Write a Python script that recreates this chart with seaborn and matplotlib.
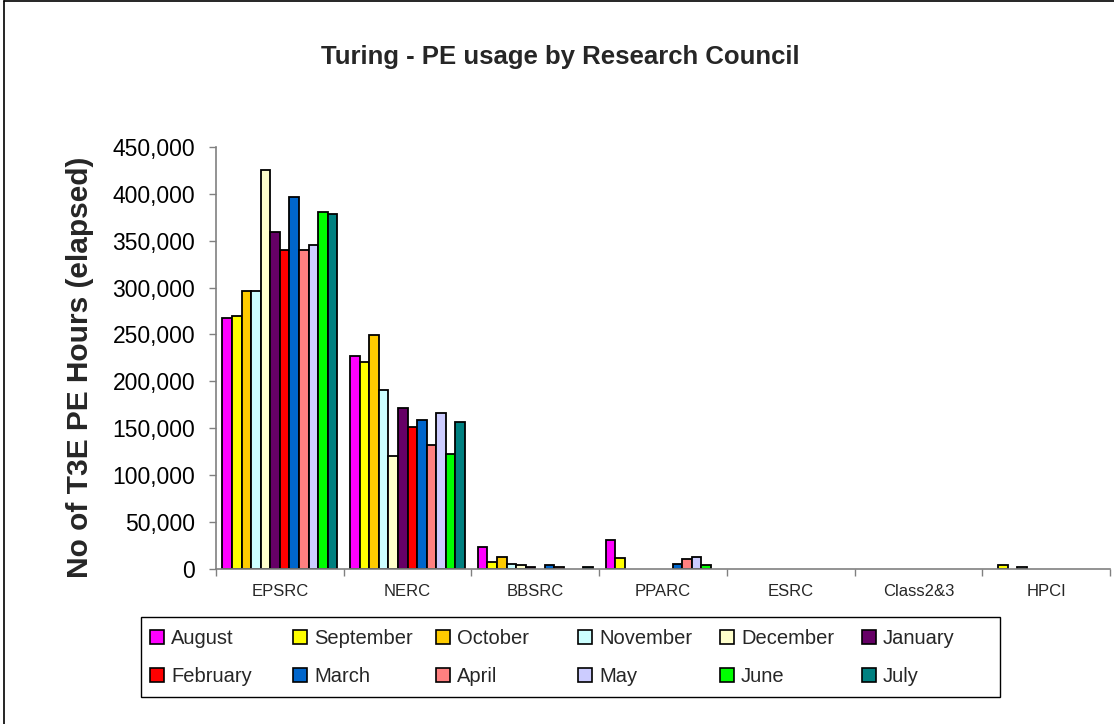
import matplotlib

matplotlib.use("Agg")

import numpy as np
import pandas as pd
import matplotlib.pyplot as plt
import matplotlib.ticker as mticker
from matplotlib.lines import Line2D
from matplotlib.patches import Patch, Rectangle
import seaborn as sns

councils = ["EPSRC", "NERC", "BBSRC", "PPARC", "ESRC", "Class2&3", "HPCI"]
months = ["August", "September", "October", "November", "December", "January",
          "February", "March", "April", "May", "June", "July"]
month_colors = ["#FF00FF", "#FFFF00", "#FFCC00", "#CCFFFF", "#FFFFCC", "#660066",
                "#FF0000", "#0066CC", "#FF8080", "#CCCCFF", "#00FF00", "#008080"]

# PE hours per council, Aug -> Jul
epsrc = [268000, 270000, 296000, 296000, 425000, 359000, 340000, 397000, 340000, 345000, 381000, 378000]
nerc = [227000, 221000, 249000, 191000, 120000, 172000, 151000, 159000, 132000, 166000, 122000, 157000]
bbsrc = [23000, 7000, 13000, 5000, 3500, 1500, 0, 3500, 1500, 0, 0, 1500]
pparc = [31000, 11000, 0, 0, 0, 0, 0, 5000, 10000, 13000, 4000, 0]
esrc = [0, 0, 0, 0, 0, 0, 0, 0, 0, 0, 0, 0]
class23 = [0, 0, 0, 0, 0, 0, 0, 0, 0, 0, 0, 0]
hpci = [0, 3500, 0, 1500, 0, 0, 0, 0, 0, 0, 0, 0]

hours_by_council = [epsrc, nerc, bbsrc, pparc, esrc, class23, hpci]

rows = []
for council, values in zip(councils, hours_by_council):
    for month, v in zip(months, values):
        rows.append({"Council": council, "Month": month, "Hours": v})
df = pd.DataFrame(rows)

sns.set_theme(style="white")
plt.rcParams["font.family"] = ["Liberation Sans", "DejaVu Sans"]

fig = plt.figure(figsize=(11.14, 7.24), dpi=100)
ax = fig.add_axes([0.1939, 0.2145, 0.8025, 0.5825])

sns.barplot(
    data=df,
    x="Council",
    y="Hours",
    hue="Month",
    order=councils,
    hue_order=months,
    palette=dict(zip(months, month_colors)),
    saturation=1,
    width=0.9,
    edgecolor="black",
    linewidth=1.3,
    errorbar=None,
    legend=False,
    ax=ax,
)

# excel draws nothing for empty months
for cont in ax.containers:
    for bar in cont:
        if bar.get_height() == 0:
            bar.set_visible(False)

ax.set_xlim(-0.5, len(councils) - 0.5)
ax.set_ylim(0, 450000)
ax.yaxis.set_major_locator(mticker.MultipleLocator(50000))
ax.yaxis.set_major_formatter(mticker.FuncFormatter(lambda v, p: f"{v:,.0f}"))
ax.tick_params(axis="y", left=True, length=5, width=1, color="#808080",
               labelsize=16.5, pad=10, labelcolor="black")

ax.set_xticks(range(len(councils)))
ax.set_xticklabels(councils)
ax.set_xticks(np.arange(-0.5, len(councils), 1), minor=True)
ax.tick_params(axis="x", which="major", length=0, labelsize=12, pad=11)
ax.tick_params(axis="x", which="minor", bottom=True, length=5, width=1, color="#808080")

ax.set_xlabel("")
ax.set_ylabel("")
for side in ["top", "right"]:
    ax.spines[side].set_visible(False)
for side in ["left", "bottom"]:
    ax.spines[side].set_color("#808080")
    ax.spines[side].set_linewidth(1.2)

fig.text(0.503, 0.921, "Turing - PE usage by Research Council",
         ha="center", va="center", fontsize=18.5, fontweight="bold")
fig.text(0.0718, 0.492, "No of T3E PE Hours (elapsed)", rotation=90,
         ha="center", va="center", fontsize=21.5, fontweight="bold")

# legend: excel uses equal-width columns, so one small legend per column
handles = [Patch(facecolor=c, edgecolor="black", linewidth=1.2) for c in month_colors]
col_x = [150, 293, 436, 578, 720, 862]
for i, x in enumerate(col_x):
    fig.legend(
        [handles[i], handles[i + 6]],
        [months[i], months[i + 6]],
        loc="upper left",
        bbox_to_anchor=(x / 1114, 1 - 629 / 724),
        borderaxespad=0,
        borderpad=0,
        frameon=False,
        fontsize=14.5,
        handlelength=0.7,
        handleheight=0.7,
        handletextpad=0.35,
        labelspacing=0.95,
    )
fig.add_artist(Rectangle((141 / 1114, 1 - 697 / 724), 859 / 1114, 80 / 724,
                         transform=fig.transFigure, fill=False,
                         edgecolor="black", lw=1.0))

# outer chart border (only left and top are visible in the capture)
fig.add_artist(Line2D([0.004, 0.004], [0, 0.9985], transform=fig.transFigure,
                      color="black", lw=1.2))
fig.add_artist(Line2D([0.004, 1], [0.9985, 0.9985], transform=fig.transFigure,
                      color="black", lw=1.2))

fig.savefig("out.png", dpi=100, facecolor="white")
